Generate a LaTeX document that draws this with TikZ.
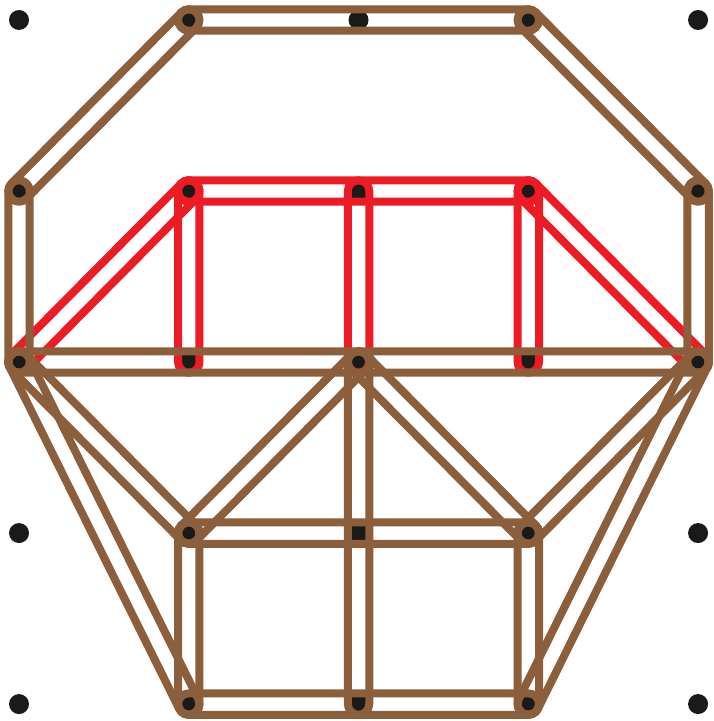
\documentclass[tikz,border=0pt]{standalone}
\usetikzlibrary{calc}

\definecolor{roadbrown}{HTML}{8B5E3C}
\definecolor{roadred}{HTML}{ED1C24}
\definecolor{dotblack}{HTML}{1A1A18}

\tikzset{
    gridpoint/.style={circle,fill=dotblack,inner sep=0pt,minimum size=20pt},
    road/.style={line width=8pt,line join=round}
}

% outline round the segment between two named points
\newcommand{\roadoutline}[3]{
    \draw[road,#3] let \p1=($(#2.center)-(#1.center)$), \n1={atan2(\y1,\x1)} in
        ($(#1.center)!10.7pt!90:(#2.center)$) -- ($(#2.center)!10.7pt!-90:(#1.center)$)
        arc[start angle=\n1+90, end angle=\n1-90, radius=10.7pt]
        -- ($(#1.center)!10.7pt!-90:(#2.center)$)
        arc[start angle=\n1-90, end angle=\n1-270, radius=10.7pt] -- cycle;
}

\begin{document}
\begin{tikzpicture}[x=169.75pt,y=171pt]
    \useasboundingbox (-0.112,-0.099) rectangle (4.088,4.117);

    \foreach \x in {0,...,4}
    \foreach \y in {0,...,4}
    \node[gridpoint] (P\x\y) at (\x,\y) {};

    % red part
    \foreach \a/\b in {P02/P13, P13/P33, P33/P42, P13/P12, P23/P22, P33/P32}
    {\roadoutline{\a}{\b}{roadred}}

    % brown part
    \foreach \a/\b in {P14/P34, P14/P03, P03/P02, P34/P43, P43/P42,
                       P02/P42, P02/P11, P02/P10, P22/P11, P22/P31, P22/P20,
                       P42/P31, P42/P30, P11/P31, P11/P10, P31/P30, P10/P30}
    {\roadoutline{\a}{\b}{roadbrown}}
\end{tikzpicture}
\end{document}
